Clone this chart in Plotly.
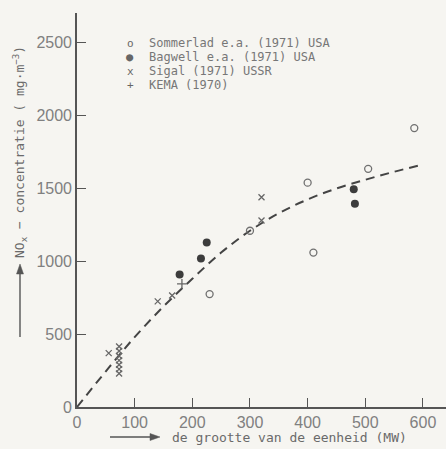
import plotly.graph_objects as go

# Sommerlad e.a. (1971) USA
som_x = [230, 300, 400, 410, 505, 585]
som_y = [775, 1210, 1540, 1060, 1635, 1915]
# Bagwell e.a. (1971) USA
bag_x = [178, 215, 225, 480, 482]
bag_y = [910, 1020, 1130, 1495, 1395]
# Sigal (1971) USSR
sig_x = [55, 73, 73, 73, 73, 73, 73, 73, 140, 165, 320, 320]
sig_y = [370, 230, 260, 290, 320, 350, 385, 415, 725, 765, 1440, 1280]
# KEMA (1970)
kema_x = [182]
kema_y = [845]
# dashed trend curve
fit_x = [0, 50, 100, 150, 200, 250, 300, 350, 400, 450, 500, 550, 600]
fit_y = [0, 245, 480, 690, 880, 1060, 1210, 1330, 1425, 1500, 1560, 1615, 1665]

x_ticks = [0, 100, 200, 300, 400, 500, 600]
y_ticks = [0, 500, 1000, 1500, 2000, 2500]

legend_labels = ["Sommerlad e.a. (1971) USA", "Bagwell e.a. (1971) USA",
                 "Sigal (1971) USSR", "KEMA (1970)"]
legend_glyphs = ["o", "●", "x", "+"]

BG = "#f6f5f1"
INK = "#555555"
SOFT = "#808080"
MONO = "DejaVu Sans Mono"

fig = go.Figure()
fig.add_trace(go.Scatter(x=fit_x, y=fit_y, mode="lines", line_shape="spline",
                         line=dict(color="#444444", width=2, dash="9px,6px")))
fig.add_trace(go.Scatter(x=som_x, y=som_y, mode="markers",
                         marker=dict(symbol="circle-open", size=7, color="#707070",
                                     line=dict(color="#707070", width=1.3))))
fig.add_trace(go.Scatter(x=bag_x, y=bag_y, mode="markers",
                         marker=dict(symbol="circle", size=8, color="#3c3c3c")))
fig.add_trace(go.Scatter(x=sig_x, y=sig_y, mode="markers",
                         marker=dict(symbol="x-thin-open", size=6, color="#666666",
                                     line=dict(color="#666666", width=1.3))))
fig.add_trace(go.Scatter(x=kema_x, y=kema_y, mode="markers",
                         marker=dict(symbol="cross-thin-open", size=7, color="#666666",
                                     line=dict(color="#666666", width=1.3))))

axis_common = dict(showgrid=False, zeroline=False, showline=True,
                   linecolor=INK, linewidth=1.6, ticks="inside", ticklen=9,
                   tickwidth=1.4, tickcolor=INK,
                   tickfont=dict(family="Liberation Sans", size=16, color=SOFT))

fig.update_layout(
    width=446, height=449,
    margin=dict(l=77, r=0, t=13, b=42),
    paper_bgcolor=BG, plot_bgcolor=BG,
    showlegend=False,
    xaxis=dict(range=[0, 640], tickvals=x_ticks, **axis_common),
    yaxis=dict(range=[0, 2705], tickvals=y_ticks, **axis_common),
)

# pixel -> paper helpers for the annotation layer
W, H = 369, 394
def px(x):
    return (x - 77) / W
def py(y):
    return (407 - y) / H

# legend block drawn as text rows
for i, (g, lab) in enumerate(zip(legend_glyphs, legend_labels)):
    yy = 43 + i * 14
    fig.add_annotation(x=px(130), y=py(yy), xref="paper", yref="paper",
                       text=g, showarrow=False, xanchor="center", yanchor="middle",
                       borderpad=0,
                       font=dict(family=MONO, size=11 if g != "●" else 12, color="#666666"))
    fig.add_annotation(x=px(148), y=py(yy), xref="paper", yref="paper",
                       text=lab, showarrow=False, xanchor="left", yanchor="middle",
                       borderpad=0,
                       font=dict(family=MONO, size=12, color="#777777"))

# axis-title arrows as plain shapes
ARROW = "#555555"
fig.add_shape(type="line", xref="paper", yref="paper",
              x0=px(20), x1=px(20), y0=py(337), y1=py(272),
              line=dict(color=ARROW, width=1.4))
fig.add_shape(type="path", xref="paper", yref="paper",
              path=f"M {px(16.5)} {py(274)} L {px(23.5)} {py(274)} L {px(20)} {py(264)} Z",
              fillcolor=ARROW, line=dict(color=ARROW, width=0.5))
fig.add_shape(type="line", xref="paper", yref="paper",
              x0=px(110), x1=px(152), y0=py(437), y1=py(437),
              line=dict(color=ARROW, width=1.4))
fig.add_shape(type="path", xref="paper", yref="paper",
              path=f"M {px(150)} {py(433.5)} L {px(150)} {py(440.5)} L {px(160)} {py(437)} Z",
              fillcolor=ARROW, line=dict(color=ARROW, width=0.5))

fig.add_annotation(x=px(20), y=py(152), xref="paper", yref="paper",
                   text="NO<sub>x</sub> − concentratie ( mg·m<sup>−3</sup>)",
                   textangle=-90, showarrow=False, xanchor="center", yanchor="middle",
                   font=dict(family=MONO, size=13, color="#6a6a6a"))
fig.add_annotation(x=px(170), y=py(437), xref="paper", yref="paper",
                   text="de grootte van de eenheid (MW)", showarrow=False,
                   xanchor="left", yanchor="middle",
                   font=dict(family=MONO, size=13, color="#6a6a6a"))

fig.write_html("out.html")
